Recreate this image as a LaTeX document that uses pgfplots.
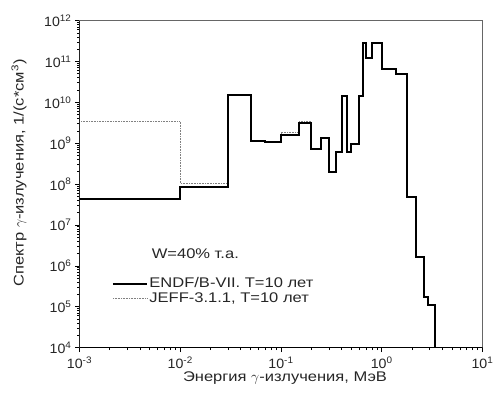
\documentclass[border=0pt]{standalone}
\usepackage{pgfplots}
\pgfplotsset{compat=1.18}
\usepackage{fontspec}
\setmainfont{Liberation Sans}[FakeStretch=1.18]
\newfontfamily\tickfont{Liberation Sans}[FakeStretch=1.05]
\begin{document}
\begin{tikzpicture}
\begin{axis}[
  scale only axis,
  width=403pt, height=327pt,
  xmode=log, ymode=log,
  xmin=1e-3, xmax=10, ymin=1e4, ymax=1e12,
  axis line style={draw=gray!80!black, line width=0.8pt},
  xtick pos=bottom, ytick pos=left,
  tick align=outside,
  major tick length=4.5pt, minor tick length=2.5pt,
  every tick/.style={black, line width=0.9pt},
  xtick={1e-3,1e-2,1e-1,1,10},
  xticklabels={10\textsuperscript{-3},10\textsuperscript{-2},10\textsuperscript{-1},10\textsuperscript{0},10\textsuperscript{1}},
  ytick={1e4,1e5,1e6,1e7,1e8,1e9,1e10,1e11,1e12},
  yticklabels={10\textsuperscript{4},10\textsuperscript{5},10\textsuperscript{6},10\textsuperscript{7},10\textsuperscript{8},10\textsuperscript{9},10\textsuperscript{10},10\textsuperscript{11},10\textsuperscript{12}},
  minor xtick={2e-3,3e-3,4e-3,5e-3,6e-3,7e-3,8e-3,9e-3,2e-2,3e-2,4e-2,5e-2,6e-2,7e-2,8e-2,9e-2,0.2,0.3,0.4,0.5,0.6,0.7,0.8,0.9,2,3,4,5,6,7,8,9},
  minor ytick={2e4,3e4,4e4,5e4,6e4,7e4,8e4,9e4,2e5,3e5,4e5,5e5,6e5,7e5,8e5,9e5,2e6,3e6,4e6,5e6,6e6,7e6,8e6,9e6,2e7,3e7,4e7,5e7,6e7,7e7,8e7,9e7,2e8,3e8,4e8,5e8,6e8,7e8,8e8,9e8,2e9,3e9,4e9,5e9,6e9,7e9,8e9,9e9,2e10,3e10,4e10,5e10,6e10,7e10,8e10,9e10,2e11,3e11,4e11,5e11,6e11,7e11,8e11,9e11},
  tick label style={font=\tickfont\fontsize{13.5}{15}\selectfont, text=black!85},
  xticklabel style={yshift=-1pt},
  xlabel={Энергия $\gamma$-излучения, МэВ},
  ylabel={Спектр $\gamma$-излучения, 1/(с*см\textsuperscript{3})},
  label style={font=\fontsize{14}{16}\selectfont, text=black!85},
  xlabel style={at={(axis description cs:0.51,-0.094)}, anchor=center},
  ylabel style={at={(axis description cs:-0.150,0.534)}, anchor=center},
  legend style={at={(0.08,0.219)}, anchor=north west, draw=none, fill=none,
    font=\fontsize{14}{16}\selectfont, text=black!85, inner sep=0pt, row sep=0pt,
    nodes={inner sep=1.5pt}},
  legend cell align=left,
  reverse legend,
  legend image code/.code={\draw[#1] (0pt,0pt) -- (34pt,0pt);},
]
\addplot[const plot, gray, densely dotted, line width=0.6pt] coordinates {
(1e-3,3.4e9) (1e-2,1.05e8) (0.03,1.5e10) (0.05,1.17e9) (0.07,1.12e9) (0.1,1.9e9) (0.15,3.4e9) (0.2,7.2e8) (0.25,1.38e9) (0.3,2e8) (0.35,6.1e8) (0.4,1.4e10) (0.45,6.3e8) (0.5,9.5e8) (0.6,1.4e10) (0.65,2.9e11) (0.7,1.2e11) (0.8,2.9e11) (1.0,6.7e10) (1.4,4.9e10) (1.8,4.9e7) (2.2,1.7e6) (2.6,1.7e5) (2.9,1.1e5) (3.35,1e4)
};
\addlegendentry{JEFF-3.1.1, T=10 лет}
\addplot[const plot, black, line width=2pt] coordinates {
(1e-3,4.4e7) (1e-2,8.5e7) (0.03,1.5e10) (0.05,1.17e9) (0.07,1.06e9) (0.1,1.6e9) (0.15,3.2e9) (0.2,7.2e8) (0.25,1.38e9) (0.3,2e8) (0.35,6.1e8) (0.4,1.4e10) (0.45,6.3e8) (0.5,9.5e8) (0.6,1.4e10) (0.65,2.9e11) (0.7,1.2e11) (0.8,2.9e11) (1.0,6.7e10) (1.4,4.9e10) (1.8,4.9e7) (2.2,1.7e6) (2.6,1.7e5) (2.9,1.1e5) (3.35,1e4)
};
\addlegendentry{ENDF/B-VII. T=10 лет}
\node[anchor=west, font=\fontsize{14}{16}\selectfont, text=black!85, inner sep=0pt] at (rel axis cs:0.179,0.289) {W=40\% т.а.};
\draw[black, line width=1.3pt] (rel axis cs:0,1) -- (rel axis cs:0,0) -- (rel axis cs:1,0);
\end{axis}
\pgfresetboundingbox
\path (-79.5pt,-46.3pt) rectangle (414.5pt,347.7pt);
\end{tikzpicture}
\end{document}
